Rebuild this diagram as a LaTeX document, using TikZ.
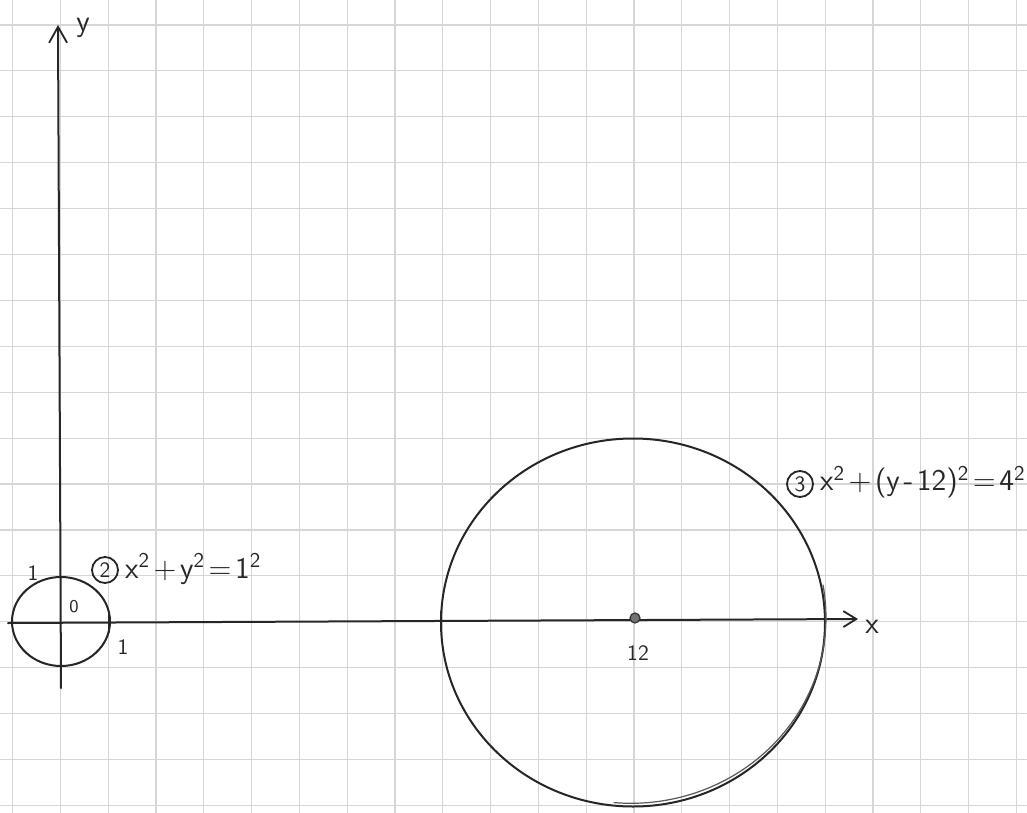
\documentclass[tikz,border=0pt]{standalone}
\usetikzlibrary{arrows.meta}
\newcommand\opgap{\kern1.8pt}
\begin{document}
\begin{tikzpicture}[x=0.5pt,y=-0.5pt,
  gridline/.style={draw=black!16, line width=0.6pt},
  ink/.style={draw=black!85, line width=1pt, line cap=round, line join=round},
  xaxis/.style={ink, -{Straight Barb[length=6.5pt,width=8pt,line width=0.9pt]}},
  yaxis/.style={ink, -{Straight Barb[length=8pt,width=9pt,line width=0.9pt]}},
  hand/.style={font=\sffamily\fontsize{15}{17}\selectfont, text=black!85},
  small/.style={font=\sffamily\fontsize{11}{13}\selectfont, text=black!85},
  tiny/.style={font=\sffamily\fontsize{9}{11}\selectfont, text=black!85},
  circnum/.style={circle, draw=black!85, line width=0.9pt, inner sep=0pt, minimum size=13pt, font=\sffamily\fontsize{11}{13}\selectfont, text=black!85},
  dot/.style={circle, fill=black!55, draw=black!80, line width=0.6pt, minimum size=5pt, inner sep=0pt}
]
\useasboundingbox (0,0) rectangle (1027,813);
\fill[white] (0,0) rectangle (1027,813);
% grid paper
\foreach \k in {0,...,21} \draw[gridline] ({12.5+47.8*\k},0) -- ({12.5+47.8*\k},813);
\foreach \k in {0,...,17} \draw[gridline] (0,{25+45.9*\k}) -- (1027,{25+45.9*\k});

% axes
\coordinate (xs) at (8,623);
\coordinate (xe) at (858,619);
\coordinate (ys) at (61,688);
\coordinate (ye) at (58,25);
\draw[xaxis] (xs) -- (xe);
\draw[yaxis] (ys) -- (ye);
\node[hand] (ylab) at (83,28) {y};
\node[hand] (xlab) at (872,627) {x};

% small circle  x^2+y^2=1^2
\draw[ink] (61,621.5) ellipse [x radius=49, y radius=44.5];
\draw[ink, line width=1.2pt] (109,613) -- (109,632);
\node[small] (one1) at (33,573) {1};
\node[tiny] (zero) at (74,607) {0};
\node[small] (one2) at (123,647) {1};
\node[circnum] (n2) at (105,570) {2};
\node[hand, anchor=west] (eq2) at (118,569) {x\textsuperscript{2}\opgap+\opgap y\textsuperscript{2}\opgap=\opgap 1\textsuperscript{2}};

% big circle
\draw[ink] (633,622.5) ellipse [x radius=192, y radius=184];
\draw[ink, line width=0.6pt, draw=black!65]
  (823,585) arc [start angle=-10, end angle=95, x radius=195, y radius=186];
\draw[ink, line width=1.2pt] (441,612) -- (441,630);
\node[dot] (c12) at (635,618) {};
\node[small] (l12) at (638,653) {12};
\node[circnum] (n3) at (800,484) {3};
\node[hand, anchor=west] (eq3) at (813,482) {x\textsuperscript{2}\opgap+\opgap(y\opgap-\opgap12)\textsuperscript{2}\opgap=\opgap 4\textsuperscript{2}};
\end{tikzpicture}
\end{document}
